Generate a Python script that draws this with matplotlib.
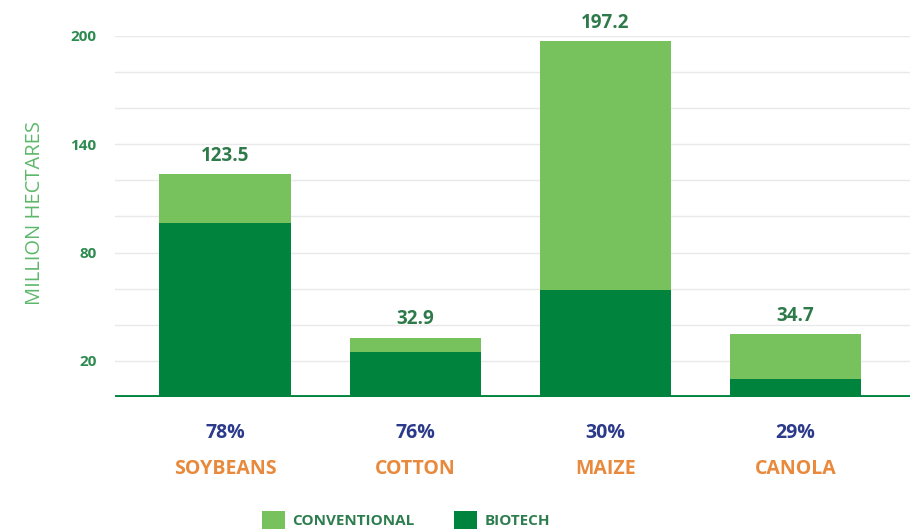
import numpy as np
import matplotlib.pyplot as plt

# global area of the four main crops, million hectares
crops = ["SOYBEANS", "COTTON", "MAIZE", "CANOLA"]
total_area = [123.5, 32.9, 197.2, 34.7]
biotech_share = [78, 76, 30, 29]  # percent of the crop area that is biotech

plt.rcParams['font.family'] = ['Open Sans', 'DejaVu Sans']

dark_green = "#00843D"
light_green = "#77C25C"

total = np.array(total_area)
biotech = total * np.array(biotech_share) / 100
conventional = total - biotech
x = np.arange(len(crops))

fig = plt.figure(figsize=(9.18, 5.32), dpi=100)
ax = fig.add_axes([0.125, 0.2538, 0.866, 0.6786])

bars_bt = ax.bar(x, biotech, width=0.69, color=dark_green, zorder=3, label="BIOTECH")
bars_cv = ax.bar(x, conventional, width=0.69, bottom=biotech, color=light_green,
                 zorder=3, label="CONVENTIONAL")

# total above each bar
for xi, t in zip(x, total):
    ax.text(xi, t + 4.5, f"{t:.1f}", ha="center", va="bottom", fontsize=13.5,
            fontweight="bold", color="#2F7A4B")

# share and crop name below the baseline
for xi, s, name in zip(x, biotech_share, crops):
    ax.text(xi, -20, f"{s}%", ha="center", va="center", fontsize=14,
            fontweight="bold", color="#2B3A8A")
    ax.text(xi, -40, name, ha="center", va="center", fontsize=14,
            fontweight="bold", color="#E8893C")

ax.set_xlim(-0.58, 3.60)
ax.set_ylim(0, 200)
ax.set_yticks([20, 80, 140, 200])
ax.set_yticks(np.arange(20, 201, 20), minor=True)
ax.set_xticks([])
ax.tick_params(axis="y", which="both", length=0, pad=13, labelsize=11,
               labelcolor="#2E8B50")
for lbl in ax.get_yticklabels():
    lbl.set_fontweight("bold")
ax.grid(axis="y", which="both", color="#E9E9E9", linewidth=1, zorder=0)
ax.axhline(0, color=dark_green, linewidth=3.5, zorder=4)
for side in ["left", "right", "top", "bottom"]:
    ax.spines[side].set_visible(False)

fig.text(35 / 918, 1 - 213 / 532, "MILLION HECTARES", rotation=90, ha="center",
         va="center", fontsize=14.5, color="#5DB86B")

fig.legend([bars_cv, bars_bt], ["CONVENTIONAL", "BIOTECH"], loc="center left",
           bbox_to_anchor=(262 / 918, 1 - 520 / 532), ncol=2, frameon=False,
           handlelength=1.5, handleheight=1.5, handletextpad=0.5,
           columnspacing=2.55, borderpad=0, borderaxespad=0, labelcolor="#2E7D4F",
           prop={"weight": "bold", "size": 11})

fig.savefig("out.png", dpi=100)
